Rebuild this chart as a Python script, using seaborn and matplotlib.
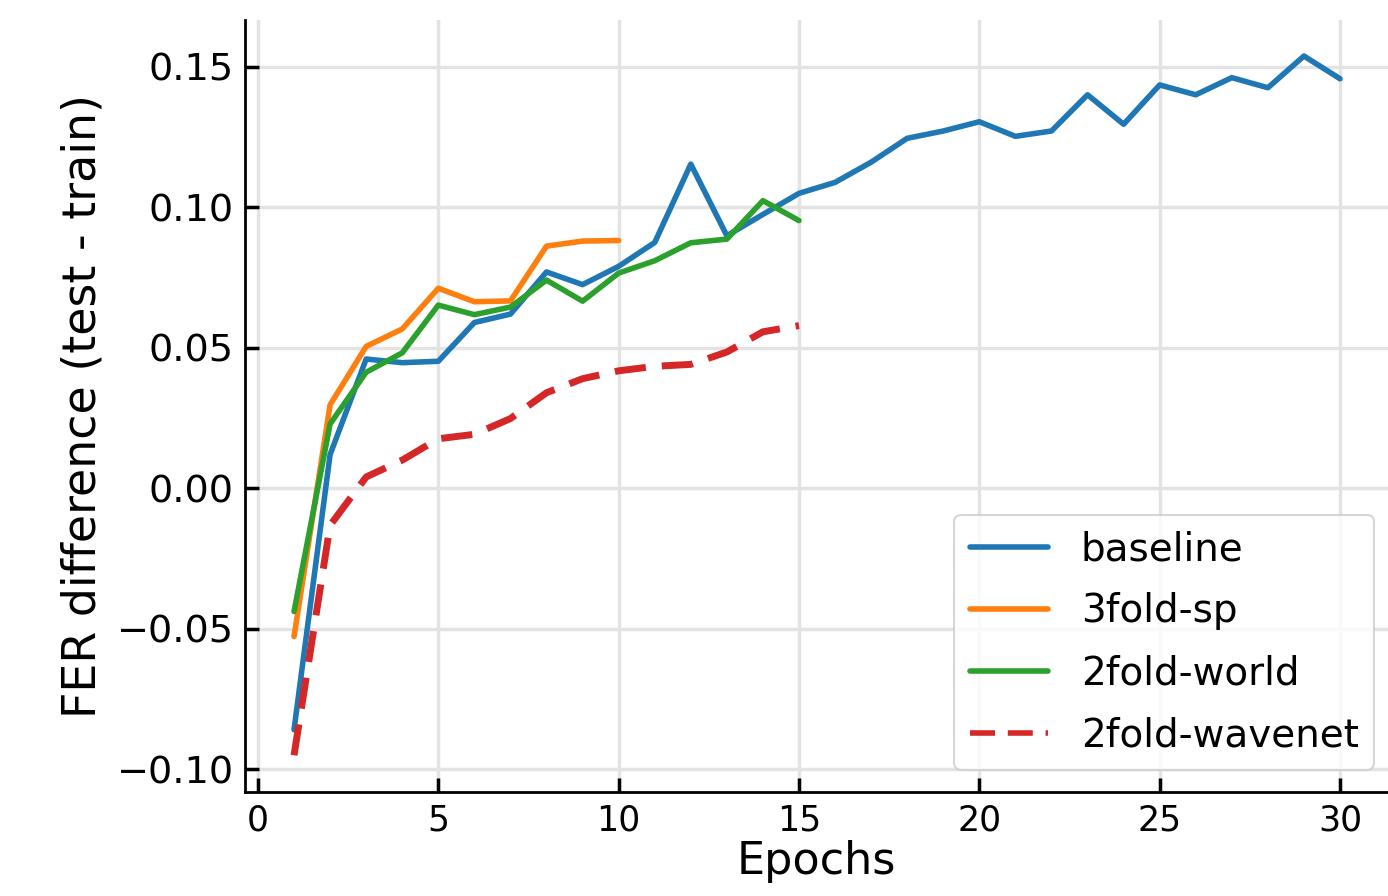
import numpy as np
import pandas as pd
import matplotlib
matplotlib.use("Agg")
import matplotlib.pyplot as plt
import seaborn as sns

# values
epochs_30 = list(range(1, 31))
epochs_15 = list(range(1, 16))
epochs_10 = list(range(1, 11))

baseline = [-0.086, 0.012, 0.046, 0.0447, 0.0452, 0.059, 0.062, 0.077, 0.0725, 0.079,
            0.0875, 0.1154, 0.0899, 0.0975, 0.105, 0.1089, 0.1161, 0.1246, 0.1272, 0.1305,
            0.1253, 0.1272, 0.1401, 0.1296, 0.1436, 0.1401, 0.1462, 0.1426, 0.1539, 0.1458]
fold3_sp = [-0.0528, 0.0297, 0.0505, 0.0567, 0.0712, 0.0664, 0.0667, 0.0862, 0.0880, 0.0882]
fold2_world = [-0.0439, 0.0229, 0.0413, 0.0482, 0.0652, 0.0618, 0.0645, 0.0741, 0.0666, 0.0766,
               0.0810, 0.0874, 0.0887, 0.1024, 0.0953]
fold2_wavenet = [-0.0951, -0.0132, 0.0040, 0.0100, 0.0176, 0.0192, 0.0248, 0.0340, 0.0390, 0.0418,
                 0.0434, 0.0441, 0.0485, 0.0557, 0.0579]

sns.set_style("whitegrid")
plt.rcParams['font.family'] = ['DejaVu Sans']
plt.rcParams['text.color'] = 'black'
plt.rcParams['axes.labelcolor'] = 'black'

fig = plt.figure(figsize=(13.88, 8.96), dpi=100)
ax = fig.add_axes([0.1765, 0.116, 0.8235, 0.8616])

sns.lineplot(x=epochs_30, y=baseline, ax=ax, color="#1f77b4", label="baseline")
sns.lineplot(x=epochs_10, y=fold3_sp, ax=ax, color="#ff7f0e", label="3fold-sp")
sns.lineplot(x=epochs_15, y=fold2_world, ax=ax, color="#2ca02c", label="2fold-world")
sns.lineplot(x=epochs_15, y=fold2_wavenet, ax=ax, color="#d62728", label="2fold-wavenet")
for ln in ax.lines:
    ln.set_linewidth(4)
ax.lines[-1].set_linewidth(5)
ax.lines[-1].set_dashes([4.5, 2.3])

ax.set_xlim(-0.36, 31.33)
ax.set_ylim(-0.1082, 0.1667)
ax.set_xticks([0, 5, 10, 15, 20, 25, 30])
ax.set_yticks([-0.10, -0.05, 0.0, 0.05, 0.10, 0.15])
ax.set_yticklabels(["\u22120.10", "\u22120.05", "0.00", "0.05", "0.10", "0.15"])

ax.grid(True, color="#e3e3e3", lw=2.5)
for side in ["top", "right"]:
    ax.spines[side].set_visible(False)
for side in ["left", "bottom"]:
    ax.spines[side].set_color("black")
    ax.spines[side].set_linewidth(2)

ax.tick_params(axis="both", direction="in", length=10, width=2.5,
               colors="black", left=True, bottom=True, pad=8)
ax.tick_params(axis="y", labelsize=27.5)
ax.tick_params(axis="x", labelsize=25)

ax.set_xlabel("Epochs", fontsize=32, labelpad=2)
ax.set_ylabel("FER difference (test - train)", fontsize=33, labelpad=8)

leg = ax.legend(loc="lower right", fontsize=28, frameon=True, fancybox=True,
                handlelength=2.0, borderpad=0.4, labelspacing=0.62, handletextpad=0.85,
                borderaxespad=0, bbox_to_anchor=(0.988, 0.0285))
leg.get_frame().set_edgecolor("#cccccc")
leg.get_frame().set_linewidth(1.5)
for t in leg.get_texts():
    t.set_color("black")
for h in leg.get_lines():
    h.set_linewidth(4)

fig.savefig("out.png", dpi=100)
